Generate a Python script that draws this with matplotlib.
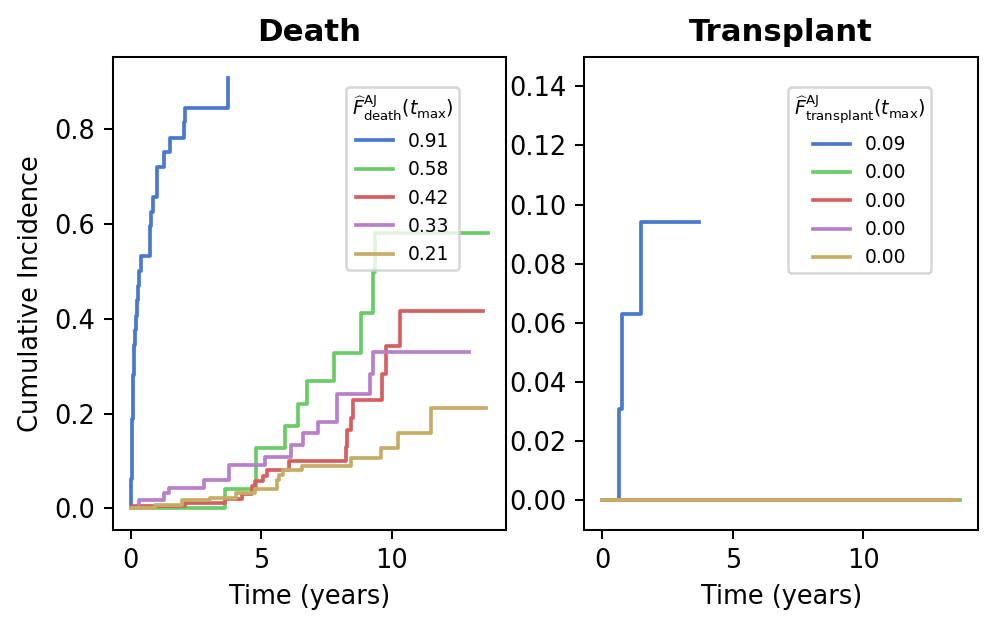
import matplotlib
matplotlib.use("Agg")
import matplotlib.pyplot as plt

# group colours (same order in both panels)
colors = ["#4878d0", "#6acc64", "#d65f5f", "#b87fcc", "#c6ad65"]

# Aalen-Johansen curves, cause = death
death_t = [
    [0, 0.02, 0.03, 0.04, 0.05, 0.055, 0.06, 0.08, 0.09, 0.10, 0.13, 0.15, 0.18, 0.20,
     0.23, 0.29, 0.34, 0.39, 0.76, 0.80, 0.87, 1.02, 1.27, 1.53, 2.03, 2.10, 3.72],
    [0, 3.6, 4.8, 5.92, 6.4, 6.77, 7.8, 8.84, 9.29, 9.36, 13.71],
    [0, 0.1, 2.1, 3.6, 4.26, 4.64, 4.75, 5.09, 5.22, 6.07, 8.24, 8.3, 8.45, 8.52,
     9.64, 9.8, 10.34, 13.51],
    [0, 0.32, 1.27, 1.46, 2.82, 3.77, 5.15, 6.13, 6.62, 7.19, 7.91, 9.16, 9.29, 12.98],
    [0, 0.95, 1.97, 3.05, 4.05, 4.77, 5.62, 5.7, 5.85, 6.55, 8.44, 9.6, 10.24, 11.51, 13.61],
]
death_F = [
    [0, 0.031, 0.063, 0.094, 0.125, 0.156, 0.188, 0.219, 0.25, 0.281, 0.313, 0.344, 0.375,
     0.406, 0.438, 0.469, 0.5, 0.531, 0.594, 0.625, 0.656, 0.719, 0.75, 0.781, 0.813, 0.844, 0.906],
    [0, 0.041, 0.128, 0.174, 0.221, 0.269, 0.328, 0.411, 0.497, 0.579, 0.579],
    [0, 0.006, 0.012, 0.019, 0.03, 0.048, 0.057, 0.068, 0.082, 0.099, 0.130, 0.165, 0.19,
     0.228, 0.283, 0.342, 0.415, 0.415],
    [0, 0.017, 0.033, 0.043, 0.059, 0.091, 0.108, 0.134, 0.159, 0.183, 0.242, 0.283, 0.329, 0.329],
    [0, 0.008, 0.017, 0.022, 0.033, 0.042, 0.061, 0.071, 0.082, 0.090, 0.106, 0.127, 0.159,
     0.211, 0.211],
]
death_labels = ["0.91", "0.58", "0.42", "0.33", "0.21"]

# cause = transplant
trans_t = [
    [0, 0.66, 0.75, 1.49, 3.72],
    [0, 13.71],
    [0, 13.51],
    [0, 12.98],
    [0, 13.61],
]
trans_F = [
    [0, 0.031, 0.063, 0.094, 0.094],
    [0, 0],
    [0, 0],
    [0, 0],
    [0, 0],
]
trans_labels = ["0.09", "0.00", "0.00", "0.00", "0.00"]

dpi = 184.44
fig, (ax1, ax2) = plt.subplots(1, 2, figsize=(996 / dpi, 627 / dpi), dpi=dpi)
fig.subplots_adjust(left=0.1131, right=0.9819, bottom=0.1547, top=0.9096, wspace=0.198)

for t, F, c, lab in zip(death_t, death_F, colors, death_labels):
    ax1.step(t, F, where="post", color=c, lw=1.45, label=lab)
for t, F, c, lab in zip(trans_t, trans_F, colors, trans_labels):
    ax2.step(t, F, where="post", color=c, lw=1.45, label=lab)

ax1.set_title("Death", fontsize=12, fontweight="bold")
ax2.set_title("Transplant", fontsize=12, fontweight="bold")
ax1.set_ylabel("Cumulative Incidence")
ax1.set_xlabel("Time (years)")
ax2.set_xlabel("Time (years)")
ax2.set_ylim(-0.01, 0.15)

leg_kw = dict(fontsize=7.3, title_fontsize=7.4, borderpad=0.3,
              loc="upper right", bbox_to_anchor=(0.88, 0.935), borderaxespad=0)
ax1.legend(title=r"$\widehat{F}^{\mathrm{AJ}}_{\mathrm{death}}(t_{\max})$", **leg_kw)
ax2.legend(title=r"$\widehat{F}^{\mathrm{AJ}}_{\mathrm{transplant}}(t_{\max})$", **leg_kw)

fig.savefig("out.png", dpi=dpi)
